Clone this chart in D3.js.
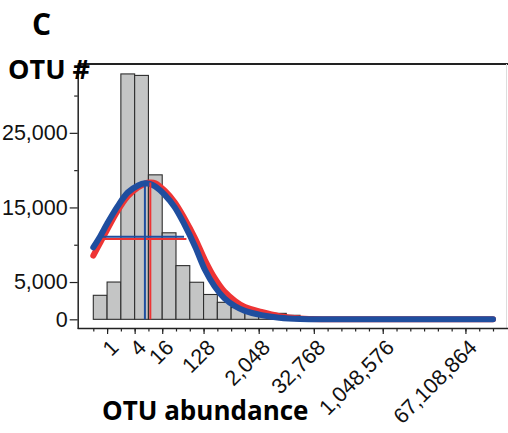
<!DOCTYPE html>
<html>
<head>
<meta charset="utf-8">
<script src="https://cdnjs.cloudflare.com/ajax/libs/d3/7.8.5/d3.min.js"></script>
<style>
  body { margin: 0; background: #fff; }
  svg { display: block; font-family: "Open Sans", sans-serif; }
</style>
</head>
<body>
<div id="histogram"></div>
<script>

// histogram bins (lower edge of each log2 bin) and OTU counts
var binLow = [0.5, 1, 2, 4, 8, 16, 32, 64, 128, 256, 512, 1024, 2048, 4096, 8192, 16384, 32768, 65536]
var otuCount = [3220, 5000, 32900, 32700, 19370, 11600, 7200, 4970, 3330, 2280, 1580, 1010, 880, 800, 540, 280, 120, 50]

// fitted curves
var curveAbund = [0.5, 0.71, 1, 1.68, 2.83, 4.76, 6.73, 8.57, 11.3, 18.4, 29.9, 48.5, 84.4, 137, 223, 362, 630, 1024, 2353, 5793, 16384, 65536, 1048576, 16777216, 268435456]
var blueFit = [9650, 11150, 12800, 15100, 17000, 17950, 18230, 18150, 17800, 16650, 15050, 12750, 9700, 6650, 4420, 2850, 1750, 1130, 560, 220, 50, 0, 0, 0, 0]
var redFit = [8550, 10300, 12000, 14500, 16500, 17700, 18200, 18340, 18250, 17200, 15700, 13600, 10800, 7950, 5550, 3750, 2450, 1650, 980, 430, 110, 10, 0, 0, 0]

// mean (vertical line) and +-1 sd (horizontal line) of each fit
var blueMean = [6.7, 18230]
var redMean = [8.8, 18340]
var blueSd = [0.81, 48, 11070]
var redSd = [0.85, 54, 10760]

// axis ticks
var xMinorTicks = d3.range(-1, 29).map(function(e) { return Math.pow(2, e); })
var xLabelTicks = [1, 4, 16, 128, 2048, 32768, 1048576, 67108864]
var yLabelTicks = [0, 5000, 15000, 25000]
var yMinorTicks = [10000, 20000, 30000]

var width = 508,
    height = 433,
    margin = {top: 64, right: 0.5, bottom: 104.5, left: 77.7};

var blue = "#1f4e9f",
    red = "#ee3434";

var svg = d3.select("#histogram")
    .append("svg")
    .attr("width", width)
    .attr("height", height);

// log2 x scale
var xScale = d3.scaleLog()
    .base(2)
    .domain([0.5, 268435456])
    .range([93.3, 493]);

var yScale = d3.scaleLinear()
    .domain([-1230, 34230])
    .range([height - margin.bottom, margin.top]);

// bars
svg.selectAll(".bar")
    .data(otuCount)
    .enter()
    .append("rect")
    .attr("class", "bar")
    .attr("x", function(d, i) { return xScale(binLow[i]); })
    .attr("width", function(d, i) { return xScale(binLow[i] * 2) - xScale(binLow[i]); })
    .attr("y", function(d) { return yScale(d); })
    .attr("height", function(d) { return yScale(0) - yScale(d); })
    .style("fill", "#c4c5c5")
    .style("stroke", "#2e2e2e")
    .style("stroke-width", 1.1);

// fitted curves, red under blue
var line = d3.line()
    .x(function(d, i) { return xScale(curveAbund[i]); })
    .y(function(d) { return yScale(d); })
    .curve(d3.curveCatmullRom.alpha(0.5));

svg.append("path")
    .datum(redFit)
    .attr("d", line)
    .style("fill", "none")
    .style("stroke", red)
    .style("stroke-width", 6)
    .style("stroke-linecap", "round");

svg.append("path")
    .datum(blueFit)
    .attr("d", line)
    .style("fill", "none")
    .style("stroke", blue)
    .style("stroke-width", 6)
    .style("stroke-linecap", "round");

// mean and sd lines
function statLines(mean, sd, color) {
  svg.append("line")
      .attr("x1", xScale(mean[0]))
      .attr("x2", xScale(mean[0]))
      .attr("y1", yScale(0))
      .attr("y2", yScale(mean[1]))
      .style("stroke", color)
      .style("stroke-width", 2);
  svg.append("line")
      .attr("x1", xScale(sd[0]))
      .attr("x2", xScale(sd[1]))
      .attr("y1", yScale(sd[2]))
      .attr("y2", yScale(sd[2]))
      .style("stroke", color)
      .style("stroke-width", 2);
}
statLines(redMean, redSd, red)
statLines(blueMean, blueSd, blue)

// frame: top and bottom lines, faint right edge
var right = width - margin.right,
    bottom = height - margin.bottom;
svg.append("line")
    .attr("x1", margin.left).attr("x2", width)
    .attr("y1", margin.top).attr("y2", margin.top)
    .style("stroke", "#222").style("stroke-width", 2);
svg.append("line")
    .attr("x1", right - 1).attr("x2", right - 1)
    .attr("y1", margin.top).attr("y2", bottom)
    .style("stroke", "#ddd").style("stroke-width", 1);
svg.append("line")
    .attr("x1", margin.left).attr("x2", width)
    .attr("y1", bottom).attr("y2", bottom)
    .style("stroke", "#222").style("stroke-width", 1.5);

// x axis: minor ticks then labelled ticks
var xMinor = d3.axisBottom(xScale)
    .tickValues(xMinorTicks)
    .tickSize(3)
    .tickFormat("");
var gxMinor = svg.append("g")
    .attr("transform", "translate(0," + bottom + ")")
    .call(xMinor);
gxMinor.select(".domain").remove();
gxMinor.selectAll("line").style("stroke", "#222").style("stroke-width", 1.2);

var xAxis = d3.axisBottom(xScale)
    .tickValues(xLabelTicks)
    .tickSize(5.5)
    .tickFormat(d3.format(","));
var gx = svg.append("g")
    .attr("transform", "translate(0," + bottom + ")")
    .call(xAxis);
gx.select(".domain").remove();
gx.selectAll("line").style("stroke", "#222").style("stroke-width", 1.2);
gx.selectAll("text")
    .attr("x", 0)
    .attr("y", 0)
    .attr("dy", "0.35em")
    .attr("transform", "translate(7,15) rotate(-45)")
    .style("text-anchor", "end")
    .style("font-size", "21.5px")
    .style("fill", "#111");

// y axis
var yMinor = d3.axisLeft(yScale)
    .tickValues(yMinorTicks)
    .tickSize(3.5)
    .tickFormat("");
var gyMinor = svg.append("g")
    .attr("transform", "translate(" + margin.left + ",0)")
    .call(yMinor);
gyMinor.select(".domain").remove();
gyMinor.selectAll("line").style("stroke", "#222").style("stroke-width", 1.2);

var yAxis = d3.axisLeft(yScale)
    .tickValues(yLabelTicks)
    .tickSize(8)
    .tickSizeOuter(0)
    .tickPadding(2)
    .tickFormat(d3.format(","));
var gy = svg.append("g")
    .attr("transform", "translate(" + margin.left + ",0)")
    .call(yAxis);
gy.select(".domain").style("stroke", "#222").style("stroke-width", 1.5);
gy.selectAll("line").style("stroke", "#222").style("stroke-width", 1.2);
gy.selectAll("text")
    .style("font-size", "21.5px")
    .style("fill", "#111");

// titles
svg.append("text")
    .attr("x", 32)
    .attr("y", 35)
    .style("font-size", "30px")
    .style("font-weight", "bold")
    .text("C");

svg.append("text")
    .attr("x", 8)
    .attr("y", 78.5)
    .style("font-size", "27px")
    .style("font-weight", "bold")
    .text("OTU #");

svg.append("text")
    .attr("x", 102)
    .attr("y", 419.5)
    .style("font-size", "26px")
    .style("font-weight", "bold")
    .text("OTU abundance");

</script>
</body>
</html>
